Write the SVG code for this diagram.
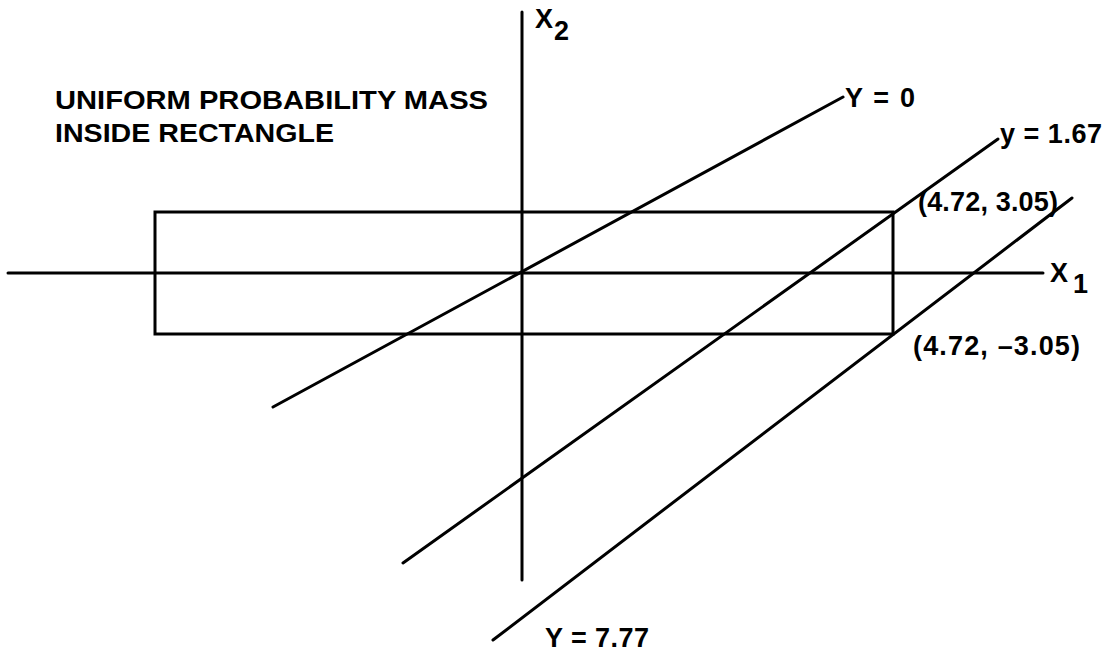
<svg xmlns="http://www.w3.org/2000/svg" width="1110" height="651" viewBox="0 0 1110 651">
<style>
.ln{stroke:#000;stroke-width:3;fill:none;stroke-linecap:round}
.t{font-family:"Liberation Sans",Arial,sans-serif;font-weight:bold;font-size:27px;fill:#000}
.u{font-family:"Liberation Sans",Arial,sans-serif;font-weight:bold;font-size:26px;fill:#000}
.ax{font-family:"Liberation Sans",Arial,sans-serif;font-weight:bold;font-size:27px;fill:#000}
</style>
<rect width="1110" height="651" fill="#fff"/>
<g id="connectors">
<line class="ln" x1="8" y1="273" x2="1043" y2="273"/>
<line class="ln" x1="522" y1="12" x2="522" y2="580"/>
<line class="ln" x1="273" y1="407" x2="843" y2="97"/>
<line class="ln" x1="403" y1="563" x2="998" y2="139"/>
<line class="ln" x1="493" y1="640" x2="1072" y2="198"/>
</g>
<g id="rectangle">
<rect class="ln" x="155" y="212" width="738" height="122"/>
</g>
<g id="label-uniform">
<text class="u" x="55" y="109" textLength="433" lengthAdjust="spacingAndGlyphs">UNIFORM PROBABILITY MASS</text>
<text class="u" x="55" y="142" textLength="279" lengthAdjust="spacingAndGlyphs">INSIDE RECTANGLE</text>
</g>
<g id="label-x2"><text class="ax" x="535" y="28">X</text><text class="ax" x="554" y="40">2</text></g>
<g id="label-x1"><text class="ax" x="1050" y="282">X</text><text class="ax" x="1073" y="293">1</text></g>
<g id="label-y0"><text class="t" x="845" y="107" textLength="70">Y = 0</text></g>
<g id="label-y167"><text class="t" x="1000" y="143" textLength="102">y = 1.67</text></g>
<g id="label-y777"><text class="t" x="545" y="647" textLength="104">Y = 7.77</text></g>
<g id="label-p1"><text class="t" x="918" y="211" textLength="140">(4.72, 3.05)</text></g>
<g id="label-p2"><text class="t" x="913" y="355" textLength="167">(4.72, –3.05)</text></g>
</svg>
